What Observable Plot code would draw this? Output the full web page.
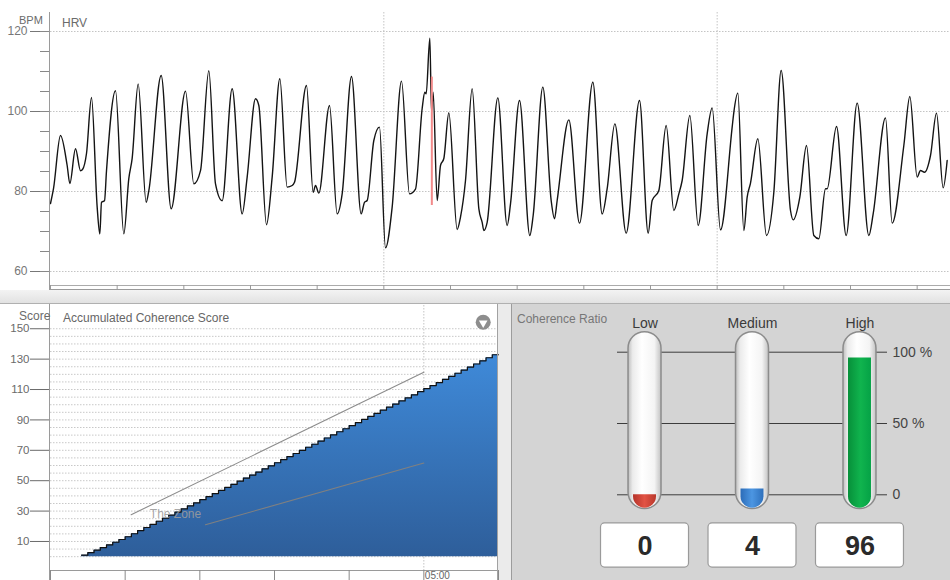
<!DOCTYPE html>
<html><head><meta charset="utf-8">
<script src="https://cdn.jsdelivr.net/npm/d3@7"></script>
<script src="https://cdn.jsdelivr.net/npm/@observablehq/plot@0.6"></script>
<style>
html,body{margin:0;padding:0;background:#fff;}
#wrap{position:relative;width:950px;height:580px;overflow:hidden;background:#fff;font-family:"Liberation Sans",Arial,sans-serif;}
.lbl{position:absolute;white-space:nowrap;line-height:1;}
</style></head><body><div id="wrap"></div>
<script>
// ---------- HRV (top) : [time s, BPM] ----------
const hrvSamples = [[0,77],[0.45,80.7],[1.5,94],[2.5,86.5],[2.9,82],[3.75,90.7],[4.5,85.2],[4.8,85.5],[5.4,89.5],[6.15,103.5],[7.0,76.1],[7.4,69.4],[7.65,77.3],[8.1,77.7],[8.4,85.2],[9.75,105.2],[11.0,69.4],[11.75,83.3],[12.25,88.3],[13.15,106.9],[14.35,77.3],[14.75,80.2],[16.6,109],[18.1,75.7],[20.25,105.1],[21.5,81.9],[22.5,85.2],[23.75,110.2],[24.75,81.9],[25.75,77.7],[27.25,105.7],[28.75,74.4],[29.5,83.6],[30.75,103.2],[31.25,101.5],[32.4,71.7],[33.25,83.6],[34.4,108.2],[35.5,81.1],[36.25,81.5],[36.6,82.3],[38.4,106.5],[39.4,79.8],[39.75,81.5],[40.25,79.6],[41.85,101.5],[43.0,74.4],[43.75,79.4],[45.15,108.75],[46.6,74.4],[47.1,77.3],[47.5,77.75],[48.5,92.75],[49.35,96.1],[50.25,65.9],[51.25,76.1],[52.65,107.6],[53.85,79.4],[54.75,80.6],[55.75,100.75],[56.15,104.8],[56.35,104.4],[56.9,118.3],[57.15,100],[57.4,104.8],[58.0,77.75],[58.5,86.5],[59.0,88.25],[59.75,99.7],[61.0,70.5],[61.5,73.6],[62.25,82.75],[63.25,105.7],[64.25,75.7],[64.75,72.3],[65.0,70.25],[65.5,72.3],[67.1,103.4],[68.5,71.5],[69.0,76.9],[70.35,102.75],[71.9,69],[72.4,74],[73.85,106.1],[75.1,77.75],[75.6,73.2],[76.0,77.75],[77.75,97.9],[79.35,72.1],[81.35,107.3],[82.75,74.4],[83.5,80.7],[84.65,96.9],[86.35,69.6],[88.35,102.75],[89.65,69.6],[90.25,77.75],[91.25,80.25],[92.35,96.5],[93.5,75.25],[94.25,79.4],[94.75,82.75],[95.9,99],[97.15,71.5],[98.5,94.4],[99.25,100.9],[100.5,70.4],[102.25,96.1],[102.5,99.8],[103.1,104.6],[104.0,70.25],[104.5,78.6],[105.0,82.1],[106.1,93.2],[107.4,69],[108.5,79.8],[109.6,110.25],[111.0,75.25],[111.4,72.9],[112.4,78.6],[113.4,91.5],[114.5,69],[115.25,68.2],[116.25,80.7],[116.5,80.7],[117.9,96.25],[119.35,69],[121.0,102.1],[122.75,69],[123.4,74.4],[125.25,98.4],[126.25,72.1],[128.0,91.5],[128.9,103.75],[130.0,83.6],[130.5,85.25],[131.1,84.8],[132.0,89],[132.9,99.6],[133.9,80.9],[134.5,87.75]];
const bpmTicks = [60, 80, 100, 120];
const bpmMinorTicks = [60, 65, 70, 75, 80, 85, 90, 95, 100, 105, 110, 115, 120];
const hrvTimeTicks = [0, 10, 20, 30, 40, 50, 60, 70, 80, 90, 100, 110, 120, 130];
const hrvGridTimes = [50, 100];
const markerTime = [57.2];
const markerBpmRange = [76.5, 108.6];

// ---------- Accumulated coherence score (bottom-left) : [time s, score] ----------
const scoreSamples = [[25,1.0],[30,2.6],[35,4.3],[40,6.0],[45,7.7],[50,9.5],[55,11.3],[60,13.1],[65,15.1],[70,17.2],[75,19.2],[80,21.2],[85,23.3],[90,25.3],[95,27.3],[100,29.3],[105,31.4],[110,33.4],[115,35.4],[120,37.5],[125,39.5],[130,41.5],[135,43.6],[140,45.6],[145,47.6],[150,49.7],[155,51.7],[160,53.7],[165,55.7],[170,57.8],[175,59.8],[180,61.8],[185,63.9],[190,65.9],[195,67.9],[200,70.0],[205,72.0],[210,74.0],[215,76.1],[220,78.1],[225,80.1],[230,82.2],[235,84.2],[240,86.2],[245,88.2],[250,90.3],[255,92.3],[260,94.3],[265,96.4],[270,98.4],[275,100.4],[280,102.5],[285,104.5],[290,106.5],[295,108.6],[300,110.6],[305,112.6],[310,114.6],[315,116.7],[320,118.7],[325,120.7],[330,122.8],[335,124.8],[340,126.8],[345,128.9],[350,130.9],[355,132.9],[360,132.9]];
const scoreTicks = [10, 30, 50, 70, 90, 110, 130, 150];
const minuteTicks = [0, 60, 120, 180, 240, 300, 360];
const minuteLabelTime = [300];
const minuteLabelText = ["05:00"];
const zoneUpper = [[64.8, 27.6], [300, 121.3]];
const zoneLower = [[124.5, 21.0], [300, 61.6]];
const zoneLabel = [{t: 79.8, score: 28.1, text: "The Zone"}];

// ---------- Coherence ratio (bottom-right) ----------
const ratioCategories = ["Low", "Medium", "High"];
const ratioValues = [0, 4, 96];
const ratioTicks = [0, 50, 100];
const ratioTickLabels = ["0", "50 %", "100 %"];

// ---------- helpers ----------
const wrap = document.getElementById("wrap");
const FONT = "Liberation Sans, Arial, sans-serif";
function place(el, left, top) {
  const d = document.createElement("div");
  d.style.cssText = `position:absolute;left:${left}px;top:${top}px;`;
  d.appendChild(el); wrap.appendChild(d); return d;
}
function block(left, top, w, h, css) {
  const d = document.createElement("div");
  d.style.cssText = `position:absolute;left:${left}px;top:${top}px;width:${w}px;height:${h}px;${css}`;
  wrap.appendChild(d); return d;
}
function label(text, left, top, css) {
  const s = document.createElement("div");
  s.className = "lbl"; s.textContent = text;
  s.style.cssText += `left:${left}px;top:${top}px;${css}`;
  wrap.appendChild(s); return s;
}
function addDefs(svg, html) {
  const defs = document.createElementNS("http://www.w3.org/2000/svg", "defs");
  defs.innerHTML = html;
  svg.insertBefore(defs, svg.firstChild);
}

// ---------- chrome ----------
block(0, 290, 950, 13, "background:linear-gradient(#f3f3f3,#e2e2e2);border-bottom:1px solid #b0b0b0;");
block(498, 304, 13, 276, "background:#ebebeb;");
block(511, 304, 439, 276, "background:#d4d4d4;border-left:1px solid #9c9c9c;");

// ---------- top HRV chart ----------
const hrv = hrvSamples.map(([t, bpm]) => ({t, bpm}));
const yLo = 56.5, yHi = 124.75;
const topPlot = Plot.plot({
  width: 950, height: 290, marginLeft: 50, marginRight: 0, marginTop: 12, marginBottom: 5,
  x: {domain: [0, 135], axis: null},
  y: {domain: [yLo, yHi], axis: null},
  style: {background: "transparent", fontFamily: FONT, fontSize: "12px", overflow: "visible"},
  marks: [
    Plot.gridY({ticks: bpmTicks, stroke: "#c4c4c4", strokeOpacity: 1, strokeDasharray: "1.5,1.5"}),
    Plot.gridX({ticks: hrvGridTimes, stroke: "#c4c4c4", strokeOpacity: 1, strokeDasharray: "1.5,1.5"}),
    Plot.ruleY([yLo], {stroke: "#ababab"}),
    Plot.axisX({ticks: hrvTimeTicks, tickSize: 4, tickFormat: () => "", stroke: "#999", label: null}),
    Plot.axisY({ticks: bpmTicks, tickSize: 20, tickPadding: 3, color: "#777", label: null, fontSize: 12}),
    Plot.axisY({ticks: bpmMinorTicks, tickSize: 10, tickFormat: () => "", color: "#888", label: null}),
    Plot.line(hrv, {x: "t", y: "bpm", curve: "monotone-x", stroke: "#141414", strokeWidth: 1.4}),
    Plot.ruleX(markerTime, {y1: markerBpmRange[0], y2: markerBpmRange[1], stroke: "#f28a8a", strokeWidth: 2})
  ]
});
place(topPlot, 0, 0);
block(50, 289, 900, 1, "background:#9a9a9a;");
block(49, 12, 1, 278, "background:#9a9a9a;");

// ---------- bottom-left score chart ----------
const score = scoreSamples.map(([t, v]) => ({t, v}));
const zoneUp = zoneUpper.map(([t, v]) => ({t, v}));
const zoneLo = zoneLower.map(([t, v]) => ({t, v}));
const sLo = -9.1, sHi = 165.3;
const scorePlot = Plot.plot({
  width: 510, height: 277, marginLeft: 50, marginRight: 12, marginTop: 2, marginBottom: 10,
  x: {domain: [0, 360], axis: null},
  y: {domain: [sLo, sHi], axis: null},
  style: {background: "transparent", fontFamily: FONT, fontSize: "12px", overflow: "visible"},
  marks: [
    Plot.gridY({ticks: d3.range(0, 151, 5), stroke: "#c8c8c8", strokeOpacity: 1, strokeDasharray: "1.5,1.5"}),
    Plot.gridX({ticks: minuteLabelTime, stroke: "#c4c4c4", strokeOpacity: 1, strokeDasharray: "1.5,1.5"}),
    Plot.areaY(score, {x: "t", y: "v", curve: "step-after", fill: "url(#scoreGrad)"}),
    Plot.lineY(score, {x: "t", y: "v", curve: "step-after", stroke: "#111", strokeWidth: 1.2}),
    Plot.line(zoneUp, {x: "t", y: "v", stroke: "#8c8c8c", strokeWidth: 1.1}),
    Plot.line(zoneLo, {x: "t", y: "v", stroke: "#808080", strokeWidth: 1.1}),
    Plot.text(zoneLabel, {x: "t", y: "score", text: "text", textAnchor: "start", fill: "#9c9c9c", fillOpacity: 0.9, fontSize: 12}),
    Plot.ruleY([sLo], {stroke: "#9a9a9a"}),
    Plot.axisX({ticks: minuteTicks, tickSize: 10, tickFormat: () => "", color: "#8a8a8a", label: null}),
    Plot.text(minuteLabelTime, {x: d => d, text: (d, i) => minuteLabelText[i], frameAnchor: "bottom", textAnchor: "start", lineAnchor: "top", dx: 1, dy: 1.5, fill: "#666", fontSize: 10}),
    Plot.axisY({ticks: scoreTicks, tickSize: 20, tickPadding: 1, color: "#6a6a6a", label: null, fontSize: 11.5}),
    Plot.dot([0], {frameAnchor: "top-right", dx: -15.3, dy: 16.7, r: 7.5, fill: "#8d8d8d"}),
    Plot.dot([0], {frameAnchor: "top-right", dx: -15.3, dy: 17.6, r: 3.2, symbol: "triangle", rotate: 180, fill: "white"})
  ]
});
addDefs(scorePlot, `<linearGradient id="scoreGrad" x1="0" y1="0" x2="0" y2="1">
  <stop offset="0" stop-color="#3f8ad9"/><stop offset="1" stop-color="#2e5e9a"/></linearGradient>`);
place(scorePlot, 0, 303);
block(49, 304, 1, 276, "background:#9a9a9a;");
block(497, 304, 1, 276, "background:#a2a2a2;");

// ---------- bottom-right coherence ratio ----------
const ratio = ratioCategories.map((c, i) => ({c, i: i + 1, v: ratioValues[i], fill: `url(#fill${c})`}));
const sidePad = 0.256;
const tubeBottom = -10, tubeTop = 114, fillBottom = -9.4, labelLevel = 120;
const boxBottom = -51, boxTop = -20.1, valueLevel = -36;
const ratioPlot = Plot.plot({
  width: 438, height: 276, marginLeft: 105, marginRight: 63, marginTop: 47.7, marginBottom: 85.7,
  x: {domain: [1 - sidePad, 3 + sidePad], axis: null},
  y: {domain: [0, 100], axis: null},
  color: {type: "identity"},
  style: {background: "transparent", fontFamily: FONT, fontSize: "13px", overflow: "visible"},
  marks: [
    Plot.ruleY(ratioTicks, {stroke: "#3c3c3c", strokeWidth: 1}),
    Plot.axisY({anchor: "right", ticks: ratioTicks, tickSize: 0, tickPadding: 5,
      tickFormat: d => ratioTickLabels[ratioTicks.indexOf(d)], color: "#444", label: null, fontSize: 14}),
    Plot.rect(ratio, {x1: d => d.i - 0.5, x2: d => d.i + 0.5, y1: tubeBottom, y2: tubeTop,
      insetLeft: 37.25, insetRight: 37.25, rx: 16.5, fill: "url(#tubeGrad)", stroke: "#8c8c8c", strokeWidth: 1.5}),
    Plot.rect(ratio, {x1: d => d.i - 0.5, x2: d => d.i + 0.5, y1: fillBottom, y2: "v",
      insetLeft: 42.25, insetRight: 42.25, fill: "fill", ry1: 11.5}),
    Plot.text(ratio, {x: "i", y: labelLevel, text: "c", fontSize: 14, fill: "#3a3a3a"}),
    Plot.rect(ratio, {x1: d => d.i - 0.5, x2: d => d.i + 0.5, y1: boxBottom, y2: boxTop,
      insetLeft: 9.75, insetRight: 9.75, rx: 4, fill: "white", stroke: "#9a9a9a", strokeWidth: 1.2}),
    Plot.text(ratio, {x: "i", y: valueLevel, text: d => String(d.v), fontSize: 27, fontWeight: "bold", fill: "#2a2a2a"})
  ]
});
addDefs(ratioPlot, `
<linearGradient id="tubeGrad" x1="0" y1="0" x2="1" y2="0">
 <stop offset="0" stop-color="#bdbdbd"/><stop offset="0.14" stop-color="#ebebeb"/><stop offset="0.42" stop-color="#ffffff"/><stop offset="0.8" stop-color="#f4f4f4"/><stop offset="1" stop-color="#c2c2c2"/></linearGradient>
<linearGradient id="fillLow" x1="0" y1="0" x2="1" y2="0">
 <stop offset="0" stop-color="#b5342a"/><stop offset="0.5" stop-color="#e25344"/><stop offset="1" stop-color="#b9382c"/></linearGradient>
<linearGradient id="fillMedium" x1="0" y1="0" x2="1" y2="0">
 <stop offset="0" stop-color="#2c6cb8"/><stop offset="0.5" stop-color="#4c96e2"/><stop offset="1" stop-color="#2e70bc"/></linearGradient>
<linearGradient id="fillHigh" x1="0" y1="0" x2="1" y2="0">
 <stop offset="0" stop-color="#07903a"/><stop offset="0.55" stop-color="#10b44e"/><stop offset="1" stop-color="#05a246"/></linearGradient>`);
place(ratioPlot, 512, 304);

// ---------- text labels ----------
label("BPM", 19, 14.6, "font-size:11px;color:#6b6b6b;");
label("HRV", 62, 16.7, "font-size:12px;color:#6b6b6b;");
label("Score", 19, 309.5, "font-size:12px;color:#6b6b6b;");
label("Accumulated Coherence Score", 63, 311.7, "font-size:12px;color:#666;");
label("Coherence Ratio", 517, 313.4, "font-size:12px;color:#777;");
</script></body></html>
